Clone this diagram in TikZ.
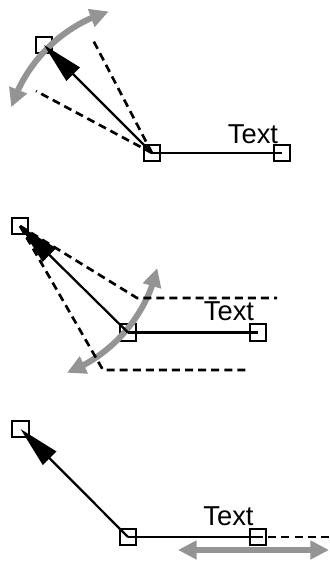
\documentclass[tikz,border=0pt]{standalone}
\usepackage{fontspec}
\setmainfont{Liberation Sans}
\usetikzlibrary{arrows.meta,bending}
\begin{document}
\begin{tikzpicture}[x=0.75pt,y=-0.75pt,
  sq/.style={draw=black,line width=1.4pt,minimum size=12.4pt,inner sep=0pt},
  lbl/.style={inner sep=0pt,anchor=base,font=\fontsize{20.5}{22}\selectfont},
  solidline/.style={line width=1.7pt,black},
  mainarrow/.style={line width=1.7pt,black,-{Triangle[length=31pt,width=14pt]}},
  dashline/.style={line width=2pt,black,dash pattern=on 6pt off 3.8pt},
  garrow/.style={line width=4.5pt,color=black!42,{Triangle[length=14pt,width=13.5pt]}-{Triangle[length=14pt,width=13.5pt]}}]
\useasboundingbox (0,0) rectangle (329,561);

% ---------- panel 1 ----------
\coordinate (d1a) at (93,40);
\coordinate (d1b) at (36,91);
\node[sq] (a1) at (44,45) {};
\node[sq] (b1) at (152,153) {};
\node[sq] (c1) at (282,153) {};
\draw[garrow] ([shift={(198:148)}]b1.center) arc[start angle=198,end angle=253,radius=148];
\draw[dashline] (b1.center) -- (d1a);
\draw[dashline] (b1.center) -- (d1b);
\draw[solidline] (b1.center) -- (c1.center);
\draw[mainarrow] (b1.center) -- (a1.center);
\node[lbl] (t1) at (253,143) {Text};

% ---------- panel 2 ----------
\coordinate (o2) at (13,235);
\coordinate (k2a) at (137,298);
\coordinate (e2a) at (277,298);
\coordinate (k2b) at (103,370);
\coordinate (e2b) at (247,370);
\node[sq] (a2) at (20,226) {};
\node[sq] (b2) at (128,332.5) {};
\node[sq] (c2) at (258,332.5) {};
\draw[garrow] ([shift={(68.6:148)}]o2) arc[start angle=68.6,end angle=12.9,radius=148];
\draw[dashline] (a2.center) -- (k2a) -- (e2a);
\draw[dashline] (a2.center) -- (k2b) -- (e2b);
\draw[solidline] (b2.center) -- (c2.center);
\draw[mainarrow] (b2.center) -- (a2.center);
\node[lbl] (t2) at (229,320) {Text};

% ---------- panel 3 ----------
\coordinate (d3a) at (190,537);
\coordinate (d3b) at (329,537);
\coordinate (g3a) at (178,550);
\coordinate (g3b) at (329,550);
\node[sq] (a3) at (20.5,429) {};
\node[sq] (b3) at (128,537) {};
\node[sq] (c3) at (258,537) {};
\draw[solidline] (b3.center) -- (c3.center);
\draw[dashline] (d3a) -- (d3b);
\draw[garrow] (g3a) -- (g3b);
\draw[mainarrow] (b3.center) -- (a3.center);
\node[lbl] (t3) at (228.5,525) {Text};
\end{tikzpicture}
\end{document}
